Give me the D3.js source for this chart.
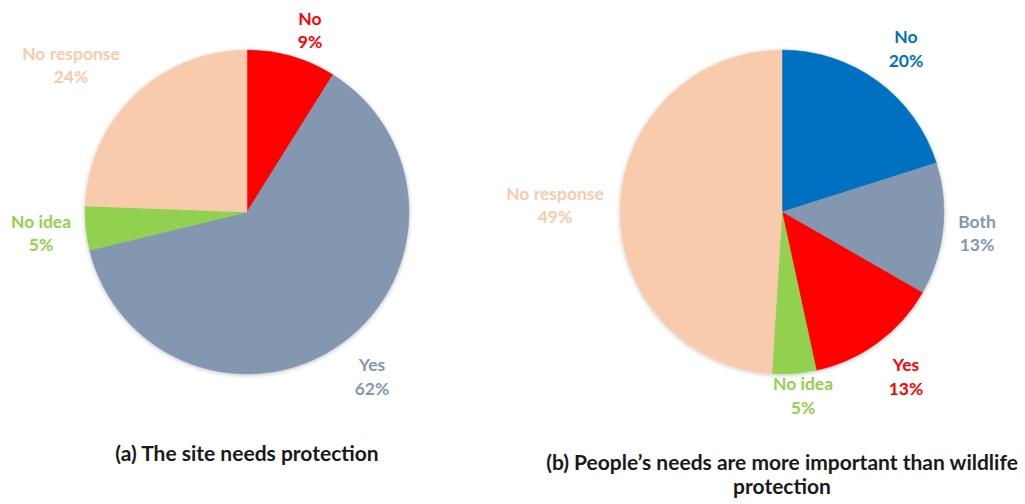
<!DOCTYPE html>
<html>
<head>
<meta charset="utf-8">
<script src="https://cdn.jsdelivr.net/npm/d3@7"></script>
<style>
  html, body { margin: 0; padding: 0; background: #ffffff; }
  svg { display: block; }
  text { font-family: Lato, "Noto Sans", sans-serif; font-weight: bold; }
</style>
</head>
<body>
<svg id="chart" width="1025" height="504"></svg>
<script>
// ---- data ----
const categoriesA = ["No", "Yes", "No idea", "No response"];
const valuesA = [8.9, 62.3, 4.4, 24.4];
const labelsA = ["9%", "62%", "5%", "24%"];
const titleA = ["(a) The site needs protection"];

const categoriesB = ["No", "Both", "Yes", "No idea", "No response"];
const valuesB = [20.1, 13.2, 13.3, 4.4, 49.0];
const labelsB = ["20%", "13%", "13%", "5%", "49%"];
const titleB = ["(b) People\u2019s needs are more important than wildlife", "protection"];

const colorsA = ["#FF0000", "#8497B0", "#92D050", "#F8CBAD"];
const colorsB = ["#0070C0", "#8497B0", "#FF0000", "#92D050", "#F8CBAD"];

// ---- layout ----
const svg = d3.select("#chart");
const defs = svg.append("defs");
const f = defs.append("filter").attr("id", "shadow")
  .attr("x", "-10%").attr("y", "-10%").attr("width", "120%").attr("height", "120%");
f.append("feDropShadow").attr("dx", 0).attr("dy", 1).attr("stdDeviation", 2)
  .attr("flood-color", "#000").attr("flood-opacity", 0.25);

const R = 162;
const fontSize = 17.5;

function drawPie(cx, cy, cats, vals, labs, cols, labelPos, title, titleX, titleY) {
  const color = d3.scaleOrdinal().domain(cats).range(cols);
  const pie = d3.pie().sort(null).value(d => d.v);
  const data = cats.map((c, i) => ({ c, v: vals[i], l: labs[i] }));
  const arcs = pie(data);
  const arc = d3.arc().innerRadius(0).outerRadius(R);
  const g = svg.append("g").attr("transform", `translate(${cx},${cy})`);
  g.append("g").attr("filter", "url(#shadow)")
    .selectAll("path").data(arcs).join("path")
    .attr("d", arc)
    .attr("fill", d => color(d.data.c))
    .attr("stroke", d => color(d.data.c))
    .attr("stroke-width", 0.5);

  // labels
  const lg = svg.append("g");
  data.forEach((d, i) => {
    const p = labelPos[i];
    const t = lg.append("text")
      .attr("text-anchor", "middle")
      .attr("fill", color(d.c))
      .style("font-size", fontSize + "px");
    t.append("tspan").attr("x", p[0]).attr("y", p[1]).text(d.c);
    t.append("tspan").attr("x", p[0]).attr("y", p[1] + 23.3).text(d.l);
  });

  const tt = svg.append("text")
    .attr("text-anchor", "middle")
    .attr("fill", "#1a1a1a")
    .style("font-size", "21px");
  title.forEach((line, i) => {
    tt.append("tspan").attr("x", titleX).attr("y", titleY + i * 23.4).text(line);
  });
}

drawPie(247, 212, categoriesA, valuesA, labelsA, colorsA,
  [[310, 25], [372, 371.3], [41, 228], [71, 59.5]],
  titleA, 247, 460.5);

drawPie(782, 212, categoriesB, valuesB, labelsB, colorsB,
  [[906, 43.3], [977, 227.7], [906, 371.3], [803, 390.3], [555, 200]],
  titleB, 782, 470.3);
</script>
</body>
</html>
